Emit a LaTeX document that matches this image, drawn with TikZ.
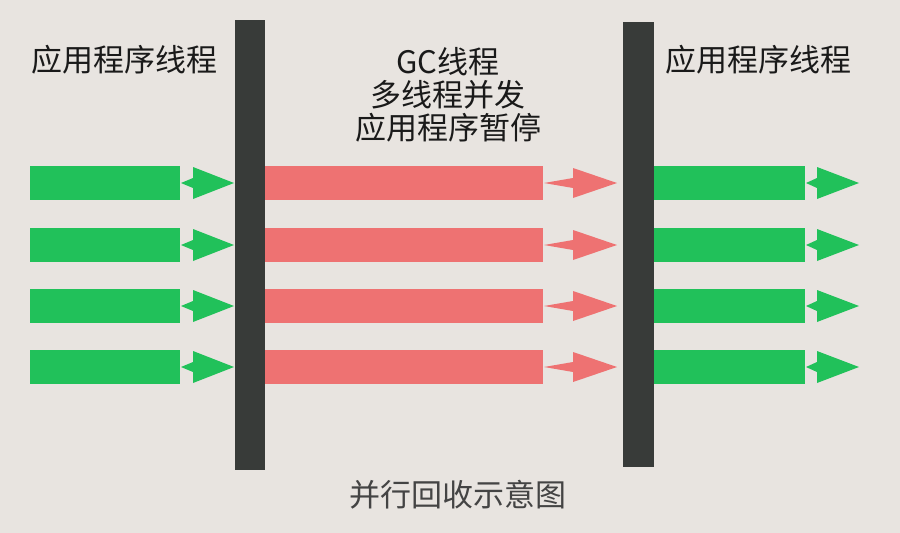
\documentclass[tikz,border=0pt]{standalone}
\usepackage{fontspec}
\newfontfamily\cjk{Noto Sans CJK SC}
\definecolor{bg}{HTML}{E8E4E0}
\definecolor{barc}{HTML}{383B39}
\definecolor{grn}{HTML}{21C15A}
\definecolor{redc}{HTML}{EE7272}
\definecolor{txt}{HTML}{1A1A1A}
\definecolor{txtg}{HTML}{444444}
\tikzset{
  wall/.style={fill=barc, draw=none},
  gshaft/.style={fill=grn, draw=none},
  rshaft/.style={fill=redc, draw=none},
  lbl/.style={font=\cjk\fontsize{31}{33}\selectfont, text=txt, inner sep=0pt, align=center},
}
\begin{document}
\begin{tikzpicture}[x=1pt,y=-1pt]
\useasboundingbox (0,0) rectangle (900,533);
\fill[bg] (0,0) rectangle (900,533);
% walls
\node[wall, minimum width=30pt, minimum height=450pt, inner sep=0pt] (wl) at (250,245) {};
\node[wall, minimum width=31pt, minimum height=445pt, inner sep=0pt] (wr) at (638.5,244.5) {};
% rows
\foreach \cy in {183,245,306,367} {
  \fill[gshaft] (30,\cy-17) rectangle (180,\cy+17);
  \fill[grn] (181,\cy) -- (193,\cy-5) -- (193,\cy-16) -- (234,\cy) -- (193,\cy+16) -- (193,\cy+5) -- cycle;
  \fill[rshaft] (265,\cy-17) rectangle (543,\cy+17);
  \fill[redc] (544,\cy) -- (573,\cy-5) -- (573,\cy-15) -- (617,\cy) -- (573,\cy+15) -- (573,\cy+5) -- cycle;
  \fill[gshaft] (654,\cy-17) rectangle (805,\cy+17);
  \fill[grn] (806,\cy) -- (817,\cy-5) -- (817,\cy-16) -- (859,\cy) -- (817,\cy+16) -- (817,\cy+5) -- cycle;
}
% labels
\node[lbl] (tl) at (124,60) {应用程序线程};
\node[lbl] (tr) at (758,60) {应用程序线程};
\node[lbl] (tm) at (448,95) {GC线程\\多线程并发\\应用程序暂停};
\node[lbl, text=txtg] (cap) at (458,495) {并行回收示意图};
\end{tikzpicture}
\end{document}
